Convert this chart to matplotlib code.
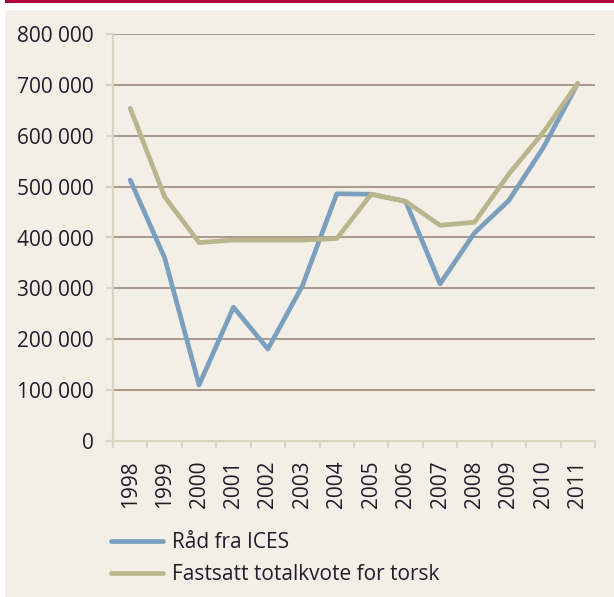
import matplotlib
matplotlib.use("Agg")
import matplotlib.pyplot as plt
from matplotlib.patches import Rectangle

years = ["1998", "1999", "2000", "2001", "2002", "2003", "2004",
         "2005", "2006", "2007", "2008", "2009", "2010", "2011"]
ices = [513000, 360000, 110000, 263000, 181000, 305000, 486000,
        485000, 471000, 309000, 409000, 473000, 577000, 703000]
tac = [654000, 480000, 390000, 395000, 395000, 395000, 398000,
       485000, 471000, 424000, 430000, 525000, 607000, 703000]
labels = ["Råd fra ICES", "Fastsatt totalkvote for torsk"]
yticks = [0, 100000, 200000, 300000, 400000, 500000, 600000, 700000, 800000]

plt.rcParams['font.family'] = ['Open Sans', 'DejaVu Sans']

W, H = 614, 597
FS = 15
txt_c = "#1f1d2a"
fig = plt.figure(figsize=(W / 100, H / 100), dpi=100)
fig.patch.set_facecolor("white")
bg = "#f3efe7"
fig.patches.append(Rectangle((5 / W, 0), 1, 1 - 10 / H, transform=fig.transFigure,
                             facecolor=bg, edgecolor="none", zorder=-10))
fig.patches.append(Rectangle((5 / W, 1 - 3 / H), 1, 3 / H, transform=fig.transFigure,
                             facecolor="#b0003a", edgecolor="none", zorder=-10))

ax = fig.add_axes([113 / W, 1 - 441 / H, (595 - 113) / W, (441 - 34) / H])
ax.set_facecolor("none")
ax.set_zorder(5)

x = list(range(len(years)))
c_ices = "#7b9fbf"
c_tac = "#b9b68e"
ax.plot(x, ices, color=c_ices, lw=3.4, solid_capstyle="round", solid_joinstyle="round",
        label=labels[0], zorder=3)
ax.plot(x, tac, color=c_tac, lw=3.4, solid_capstyle="round", solid_joinstyle="round",
        label=labels[1], zorder=3)

ax.set_xlim(-0.5, len(years) - 0.5)
ax.set_ylim(0, 800000)
ax.set_yticks(yticks)
ax.set_yticklabels([f"{v:,}".replace(",", " ") for v in yticks])
ax.set_xticks([i - 0.5 for i in range(len(years) + 1)], minor=False)
ax.set_xticklabels([])
ax.set_xticks(x, minor=True)
ax.set_xticklabels(years, minor=True, rotation=90)

grid_c = "#a39384"
for v in yticks[1:]:
    ax.axhline(v, color=grid_c, lw=1.3, zorder=1)

axis_c = "#d9d5c0"
for s in ["top", "right"]:
    ax.spines[s].set_visible(False)
for s in ["left", "bottom"]:
    ax.spines[s].set_color(axis_c)
    ax.spines[s].set_linewidth(1.6)

ax.tick_params(axis="y", which="major", length=5, width=1.6, color=axis_c,
               labelsize=FS, labelcolor=txt_c, pad=9)
ax.tick_params(axis="x", which="major", length=5, width=1.6, color=axis_c)
ax.tick_params(axis="x", which="minor", length=0, labelsize=FS, labelcolor=txt_c, pad=14)

leg = fig.legend(loc="upper left", bbox_to_anchor=(111 / W, 1 - 532 / H), frameon=False,
                 fontsize=FS, handlelength=2.5, handletextpad=0.45, labelspacing=0.55,
                 borderpad=0, borderaxespad=0)
for t in leg.get_texts():
    t.set_color(txt_c)
for l in leg.get_lines():
    l.set_linewidth(3.4)

fig.savefig("out.png", dpi=100, facecolor=fig.get_facecolor())
